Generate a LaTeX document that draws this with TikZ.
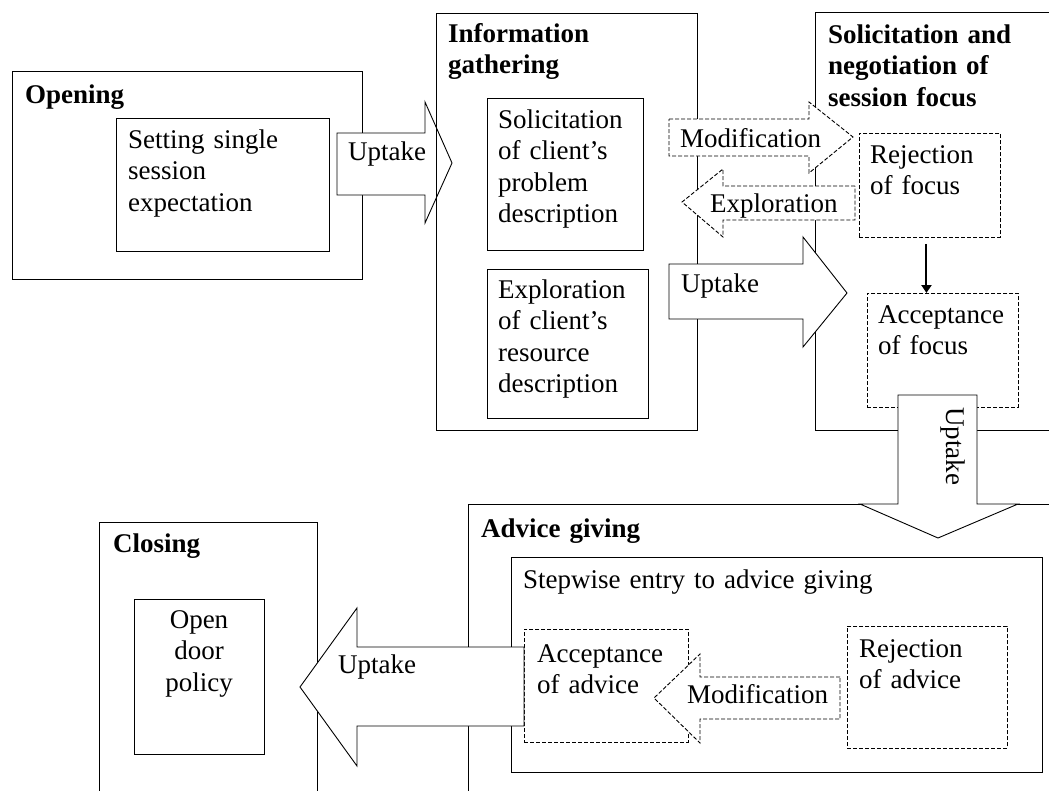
\documentclass[tikz,border=0pt]{standalone}
\usepackage{fontspec}
\setmainfont{Liberation Serif}
\usetikzlibrary{arrows.meta}

\newcommand{\bodysize}{\fontsize{27}{31.5}\selectfont}

\begin{document}
\begin{tikzpicture}[x=1pt, y=-1pt,
  box/.style={draw, line width=1.1pt, inner sep=0pt, anchor=north west},
  dbox/.style={draw, line width=0.9pt, dash pattern=on 4pt off 2pt, inner sep=0pt, anchor=north west},
  lbl/.style={anchor=base west, inner sep=0pt, text width=500pt, align=left, font=\bodysize},
  ttl/.style={lbl, font=\bodysize\bfseries},
  barrow/.style={draw, fill=white, line width=0.9pt, line join=miter},
  dbarrow/.style={barrow, dash pattern=on 4pt off 2pt},
  thinarrow/.style={line width=2pt, -{Triangle[width=10pt,length=8pt]}}]

\useasboundingbox (0,0) rectangle (1049,790);

% ---------- Opening ----------
\node[box, minimum width=350pt, minimum height=208pt] (opening) at (12,71) {};
\node[box, minimum width=213pt, minimum height=133pt] (setting) at (116,118) {};

% Uptake: opening -> information gathering
\draw[barrow] (337,133) -- (425,133) -- (425,102) -- (452,163) -- (425,223)
  -- (425,195) -- (337,195) -- cycle;

% ---------- Information gathering ----------
\node[box, minimum width=261pt, minimum height=417pt] (info) at (436,13) {};
\node[box, minimum width=156pt, minimum height=152pt] (problem) at (487,98) {};
\node[box, minimum width=161pt, minimum height=149pt] (resource) at (487,269) {};

% ---------- Solicitation and negotiation of session focus ----------
\node[box, minimum width=300pt, minimum height=418pt] (focus) at (815,12) {};
\node[dbox, minimum width=141pt, minimum height=104pt] (rejf) at (859,133) {};
\node[dbox, minimum width=151pt, minimum height=114pt] (accf) at (867,293) {};

\draw[thinarrow] ([xshift=-3.5pt,yshift=-6pt]rejf.south)
  -- ([xshift=-3.5pt]rejf.south |- accf.north);

% Modification (to rejection) and Exploration (back)
\draw[dbarrow] (669,119) -- (809,119) -- (809,102) -- (853,137) -- (809,173)
  -- (809,156) -- (669,156) -- cycle;
\draw[dbarrow] (855,186) -- (723,186) -- (723,169) -- (682,202) -- (723,237)
  -- (723,220) -- (855,220) -- cycle;

% Uptake to acceptance of focus
\draw[barrow] (669,264) -- (803,264) -- (803,237) -- (847,293) -- (803,347)
  -- (803,319) -- (669,319) -- cycle;

% ---------- Advice giving ----------
\node[box, minimum width=600pt, minimum height=300pt] (advice) at (468,504) {};
\node[box, minimum width=531pt, minimum height=215pt] (stepwise) at (511,557) {};
\node[dbox, minimum width=164pt, minimum height=113pt] (acca) at (524,629) {};
\node[dbox, minimum width=160pt, minimum height=122pt] (reja) at (847,626) {};

% Uptake down to advice giving
\draw[barrow] (898,395) -- (977,395) -- (977,504) -- (1018,504) -- (938,538)
  -- (860,504) -- (898,504) -- cycle;

% Modification (rejection -> acceptance of advice)
\draw[dbarrow] (840,677) -- (700,677) -- (700,654) -- (654,698) -- (700,743)
  -- (700,719) -- (840,719) -- cycle;

% ---------- Closing ----------
\node[box, minimum width=218pt, minimum height=300pt] (closing) at (99,522) {};
\node[box, minimum width=130pt, minimum height=155pt] (door) at (134,599) {};

% Uptake to closing
\draw[barrow] (524,647) -- (357,647) -- (357,608) -- (300,687) -- (357,766)
  -- (357,726) -- (524,726) -- cycle;

% ---------- Texts ----------
\node[ttl] (t-opening) at (25,103) {Opening};
\node[lbl] (t-setting) at (128,148) {Setting single\\session\\expectation};
\node[lbl] (t-up1) at (348,160) {Uptake};

\node[ttl] (t-info) at (448,42) {Information\\gathering};
\node[lbl] (t-problem) at (498,128) {Solicitation\\of client’s\\problem\\description};
\node[lbl] (t-resource) at (498,298) {Exploration\\of client’s\\resource\\description};

\node[ttl] (t-focus) at (828,43) {Solicitation and\\negotiation of\\session focus};
\node[lbl] (t-mod1) at (680,147) {Modification};
\node[lbl] (t-exp) at (710,212) {Exploration};
\node[lbl] (t-rejf) at (870,163) {Rejection\\of focus};
\node[lbl] (t-up2) at (681,292) {Uptake};
\node[lbl] (t-accf) at (878,323) {Acceptance\\of focus};
\node[inner sep=0pt, font=\bodysize, rotate=-90] (t-up3) at (953,446) {Uptake};

\node[ttl] (t-advice) at (481,537) {Advice giving};
\node[lbl] (t-stepwise) at (523,588) {Stepwise entry to advice giving};
\node[lbl] (t-acca) at (537,662) {Acceptance\\of advice};
\node[lbl] (t-mod2) at (687,703) {Modification};
\node[lbl] (t-reja) at (859,657) {Rejection\\of advice};

\node[ttl] (t-closing) at (113,552) {Closing};
\node[anchor=base, inner sep=0pt, text width=130pt, align=center, font=\bodysize] (t-door) at (199,628) {Open\\door\\policy};
\node[lbl] (t-up4) at (338,673) {Uptake};

\end{tikzpicture}
\end{document}
